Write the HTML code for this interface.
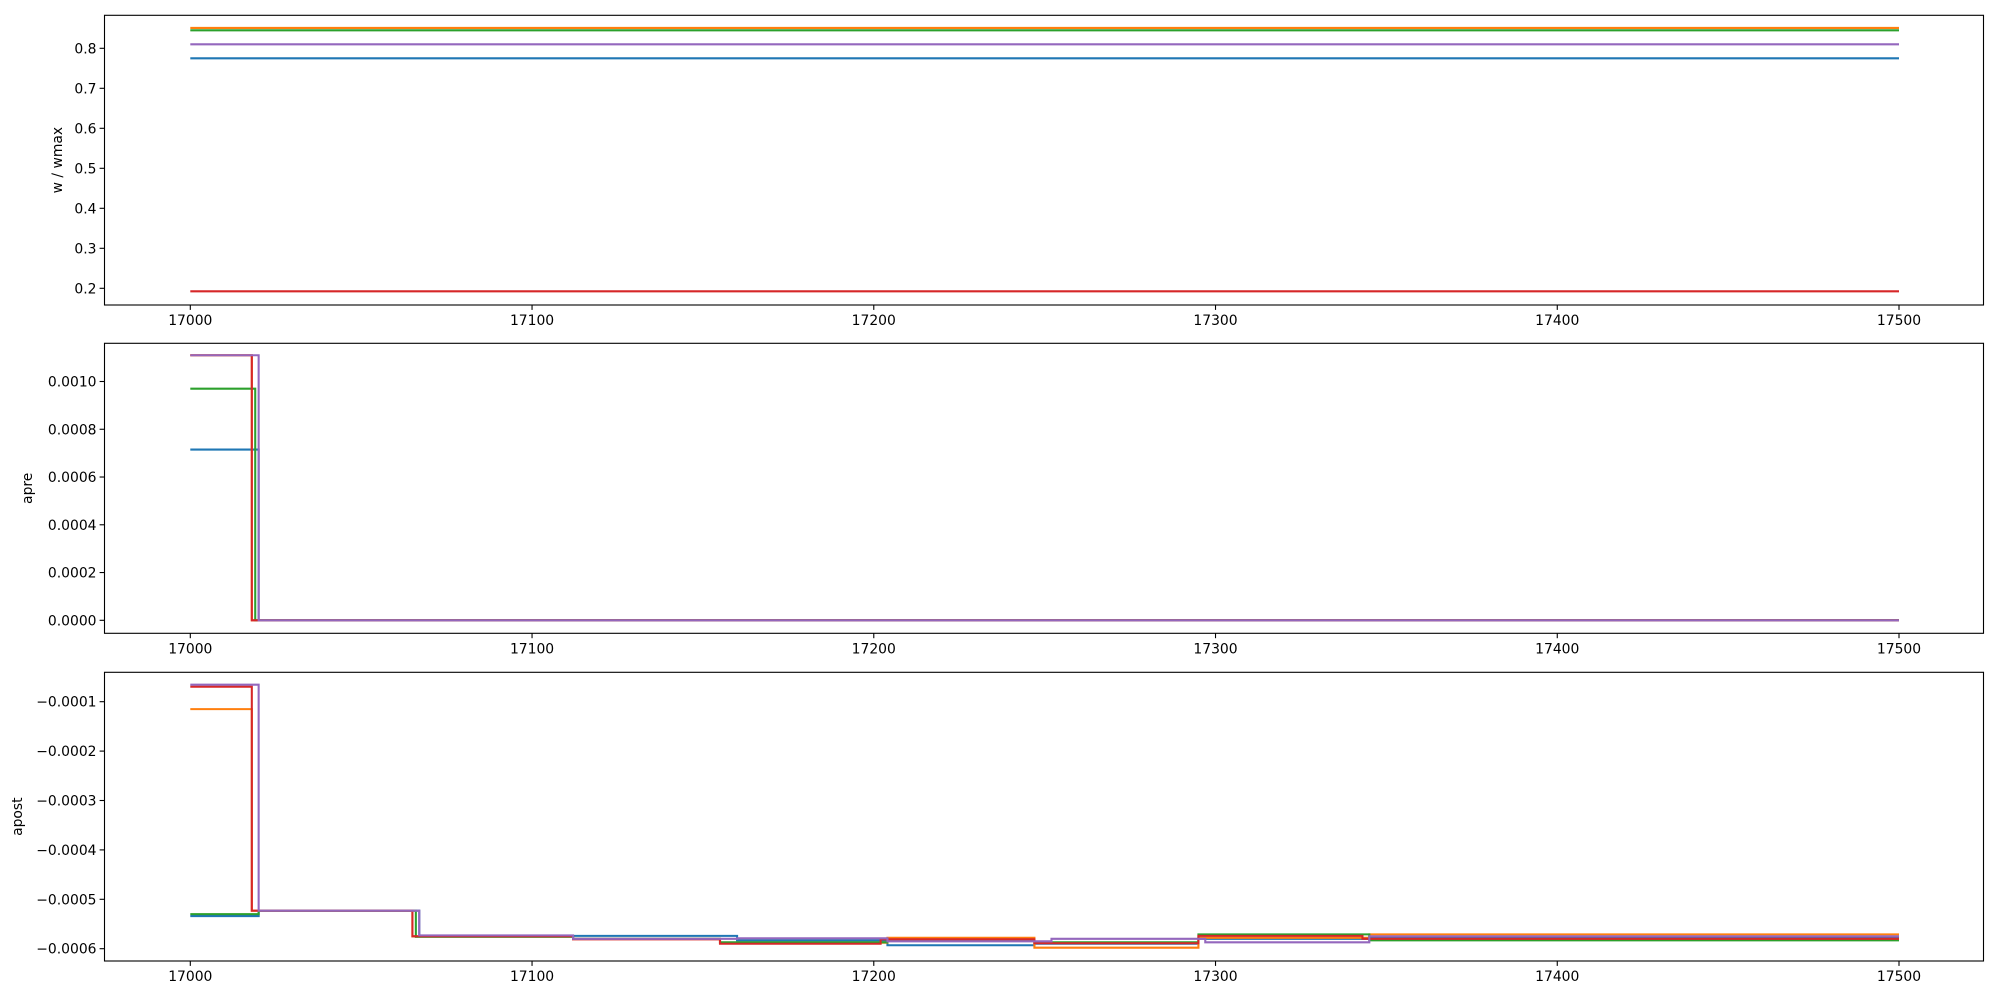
<!DOCTYPE html>
<html><head><meta charset="utf-8"><style>
html,body{margin:0;padding:0;background:#fff;}
svg{display:block;font-family:"DejaVu Sans","Liberation Sans",sans-serif;}
</style></head><body>
<svg id="fig" width="2000" height="1000" viewBox="0 0 2000 1000" xmlns="http://www.w3.org/2000/svg"></svg>
<script>
const colors = ['#1f77b4','#ff7f0e','#2ca02c','#d62728','#9467bd'];
const seriesNames = ['blue','orange','green','red','purple'];
const xTicks = [17000,17100,17200,17300,17400,17500];
const xStart = 17000, xEnd = 17500;
// top panel: constant w/wmax
const wVals = [0.775, 0.851, 0.845, 0.1925, 0.810];
const wTicks = [0.2,0.3,0.4,0.5,0.6,0.7,0.8];
const wTickLabels = ['0.2','0.3','0.4','0.5','0.6','0.7','0.8'];
// middle panel: apre step series
const apreX0 = [17020]; const apreV0 = [0.000715, 0];
const apreX1 = [17018]; const apreV1 = [0.00111, 0];
const apreX2 = [17019]; const apreV2 = [0.00097, 0];
const apreX3 = [17018]; const apreV3 = [0.00111, 0];
const apreX4 = [17020]; const apreV4 = [0.00111, 0];
const apreTicks = [0,0.0002,0.0004,0.0006,0.0008,0.0010];
const apreTickLabels = ['0.0000','0.0002','0.0004','0.0006','0.0008','0.0010'];
// bottom panel: apost step series
const apostX0 = [17020,17067,17160,17204,17247,17295,17345];
const apostV0 = [-0.000534,-0.000523,-0.000574,-0.000583,-0.000593,-0.00059,-0.00058,-0.000578];
const apostX1 = [17018,17065,17112,17155,17204,17247,17295,17345];
const apostV1 = [-0.000115,-0.000523,-0.000575,-0.00058,-0.000588,-0.000578,-0.000598,-0.000578,-0.000571];
const apostX2 = [17020,17066,17112,17155,17204,17247,17295,17345];
const apostV2 = [-0.00053,-0.000523,-0.000576,-0.00058,-0.000587,-0.000583,-0.000587,-0.000571,-0.000583];
const apostX3 = [17018,17065,17112,17155,17202,17247,17295,17343];
const apostV3 = [-0.0000696,-0.000523,-0.000575,-0.000581,-0.00059,-0.000581,-0.000589,-0.000574,-0.00058];
const apostX4 = [17020,17067,17112,17160,17204,17252,17297,17345];
const apostV4 = [-0.0000656,-0.000523,-0.000573,-0.00058,-0.000579,-0.000585,-0.00058,-0.000587,-0.000575];
const apostTicks = [-0.0006,-0.0005,-0.0004,-0.0003,-0.0002,-0.0001];
const apostTickLabels = ['\u22120.0006','\u22120.0005','\u22120.0004','\u22120.0003','\u22120.0002','\u22120.0001'];

const NS='http://www.w3.org/2000/svg';
const svg=document.getElementById('fig');
function mk(tag,attrs,parent){const e=document.createElementNS(NS,tag);for(const k in attrs)e.setAttribute(k,attrs[k]);(parent||svg).appendChild(e);return e;}
const L=104.5,R=1983.5;
function xs(v){return 190.3+(v-17000)*(1899-190.3)/500;}
const defs=mk('defs',{});

function panel(name,top,bot,yv0,yp0,yv1,yp1,ticks,labels,ylabel,ylabelX){
  const g=mk('g',{});
  
  
  const cp=mk('clipPath',{id:'clip-'+name},defs);
  mk('rect',{x:L,y:top,width:R-L,height:bot-top},cp);
  const lines=mk('g',{'clip-path':'url(#clip-'+name+')'},g);
  
  
  const ys=v=>yp0+(v-yv0)*(yp1-yp0)/(yv1-yv0);
  return {g,lines,ys,top,bot,ticks,labels,ylabel,ylabelX,name};
}
function finish(p){
  const fr=mk('rect',{x:L,y:p.top,width:R-L,height:p.bot-p.top,fill:'none',stroke:'#000','stroke-width':1.1},p.g);
  
  
  xTicks.forEach(t=>{
    const x=xs(t);
    mk('line',{x1:x,x2:x,y1:p.bot,y2:p.bot+4.9,stroke:'#000','stroke-width':1.1},p.g);
    const tx=mk('text',{x:x,y:p.bot+20,'font-size':13.9,'text-anchor':'middle',fill:'#000'},p.g);
    tx.textContent=t;
    
    
  });
  p.ticks.forEach((t,i)=>{
    const y=p.ys(t);
    mk('line',{x1:L-4.9,x2:L,y1:y,y2:y,stroke:'#000','stroke-width':1.1},p.g);
    const tx=mk('text',{x:L-8,y:y+5,'font-size':13.9,'text-anchor':'end',fill:'#000'},p.g);
    tx.textContent=p.labels[i];
    
    
  });
  const cy=(p.top+p.bot)/2;
  const yl=mk('text',{x:p.ylabelX,y:cy,'font-size':13.9,'text-anchor':'middle',fill:'#000',transform:`rotate(-90 ${p.ylabelX} ${cy})`},p.g);
  yl.textContent=p.ylabel;
  
  
}
function stepPath(p,bx,vals,color,nm){
  let x=xStart,y=p.ys(vals[0]);
  let d=`M${xs(x)},${y}`;
  for(let i=0;i<bx.length;i++){
    d+=` L${xs(bx[i])},${y}`;
    y=p.ys(vals[i+1]);
    d+=` L${xs(bx[i])},${y}`;
  }
  d+=` L${xs(xEnd)},${y}`;
  const e=mk('path',{d:d,fill:'none',stroke:color,'stroke-width':2.08,'stroke-linejoin':'miter'},p.lines);
  
  
}

const p1=panel('w-wmax',15.3,305,0.8,48.3,0.2,288.3,wTicks,wTickLabels,'w / wmax',62);
wVals.forEach((v,i)=>stepPath(p1,[],[v],colors[i],'w-line-'+seriesNames[i]));
finish(p1);

const p2=panel('apre',343.3,633.3,0,620.3,0.0010,381.5,apreTicks,apreTickLabels,'apre',32);
const apreX=[apreX0,apreX1,apreX2,apreX3,apreX4],apreV=[apreV0,apreV1,apreV2,apreV3,apreV4];
for(let i=0;i<5;i++)stepPath(p2,apreX[i],apreV[i],colors[i],'apre-line-'+seriesNames[i]);
finish(p2);

const p3=panel('apost',672.3,961,-0.0001,701.7,-0.0006,948.7,apostTicks,apostTickLabels,'apost',22);
const apostX=[apostX0,apostX1,apostX2,apostX3,apostX4],apostV=[apostV0,apostV1,apostV2,apostV3,apostV4];
for(let i=0;i<5;i++)stepPath(p3,apostX[i],apostV[i],colors[i],'apost-line-'+seriesNames[i]);
finish(p3);
</script>
</body></html>
